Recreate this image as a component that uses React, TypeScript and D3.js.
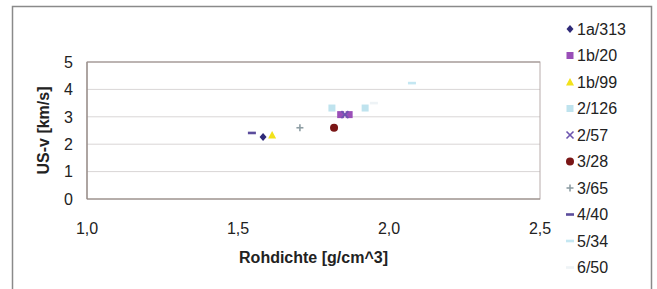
import React from "react";
import * as d3 from "d3";

const W = 657;
const H = 289;

const seriesNames = ["1a/313", "1b/20", "1b/99", "2/126", "2/57", "3/28", "3/65", "4/40", "5/34", "6/50"];
const seriesColors = ["#2f2a78", "#9a4fb8", "#f2e21a", "#bfe3ee", "#6d55b0", "#7a1616", "#8e9ea4", "#5b4c9c", "#c4e7f2", "#eef3f6"];
const seriesShapes = ["diamond", "square", "triangle", "square", "x", "circle", "plus", "dash", "dash", "dash"];

// x = Rohdichte [g/cm^3], y = US-v [km/s]
const xs1a313 = [1.583];
const ys1a313 = [2.26];
const xs1b20 = [1.84, 1.868];
const ys1b20 = [3.08, 3.08];
const xs1b99 = [1.613];
const ys1b99 = [2.34];
const xs2126 = [1.811, 1.921];
const ys2126 = [3.32, 3.32];
const xs257 = [1.854];
const ys257 = [3.08];
const xs328 = [1.818];
const ys328 = [2.6];
const xs365 = [1.705];
const ys365 = [2.6];
const xs440 = [1.546];
const ys440 = [2.41];
const xs534 = [2.076];
const ys534 = [4.23];
const xs650 = [1.95];
const ys650 = [3.5];

const seriesX = [xs1a313, xs1b20, xs1b99, xs2126, xs257, xs328, xs365, xs440, xs534, xs650];
const seriesY = [ys1a313, ys1b20, ys1b99, ys2126, ys257, ys328, ys365, ys440, ys534, ys650];

const xTicks = [1.0, 1.5, 2.0, 2.5];
const yTicks = [0, 1, 2, 3, 4, 5];

const FONT = "'Liberation Sans', Arial, sans-serif";

function Marker({ shape, color, cx, cy }: { shape: string; color: string; cx: number; cy: number }) {
  const s = 3.5;
  if (shape === "diamond") {
    return <path d={`M${cx},${cy - s - 0.5}L${cx + s},${cy}L${cx},${cy + s + 0.5}L${cx - s},${cy}Z`} fill={color} />;
  }
  if (shape === "square") {
    return <rect x={cx - s} y={cy - s} width={2 * s} height={2 * s} fill={color} />;
  }
  if (shape === "triangle") {
    return <path d={`M${cx},${cy - s - 0.5}L${cx + s + 0.5},${cy + s}L${cx - s - 0.5},${cy + s}Z`} fill={color} />;
  }
  if (shape === "circle") {
    return <circle cx={cx} cy={cy} r={s + 0.5} fill={color} />;
  }
  if (shape === "x") {
    return (
      <g stroke={color} strokeWidth={1.6}>
        <line x1={cx - s} y1={cy - s} x2={cx + s} y2={cy + s} />
        <line x1={cx - s} y1={cy + s} x2={cx + s} y2={cy - s} />
      </g>
    );
  }
  if (shape === "plus") {
    return (
      <g stroke={color} strokeWidth={1.6}>
        <line x1={cx - s} y1={cy} x2={cx + s} y2={cy} />
        <line x1={cx} y1={cy - s} x2={cx} y2={cy + s} />
      </g>
    );
  }
  // dash
  return <rect x={cx - s - 0.5} y={cy - 1.3} width={2 * s + 1} height={2.6} fill={color} />;
}

export default function App() {
  const left = 87;
  const right = 540;
  const top = 62;
  const bottom = 199;

  const x = d3.scaleLinear().domain([1.0, 2.5]).range([left, right]);
  const y = d3.scaleLinear().domain([0, 5]).range([bottom, top]);
  const fmt = (v: number) => d3.format(".1f")(v).replace(".", ",");

  const legendX = 570;
  const legendY0 = 29;
  const legendDy = 26.5;

  return (
    <svg
      width={W}
      height={H}
      style={{ position: "absolute", left: 0, top: 0, background: "#fff" }}
      fontFamily={FONT}
    >
      <rect x={0} y={0} width={W} height={H} fill="#ffffff" />
      {/* outer frame */}
      <path d={`M12.5,${H}V6.5H651.5V${H}`} fill="none" stroke="#8a8a8a" strokeWidth={1.5} />

      {/* gridlines */}
      {yTicks.filter((t) => t > 0 && t < 5).map((t) => (
        <line key={t} x1={left} x2={right} y1={y(t)} y2={y(t)} stroke="#d9d6d6" strokeWidth={1} />
      ))}
      {/* plot border */}
      <rect x={left} y={top} width={right - left} height={bottom - top} fill="none" stroke="#b8acab" strokeWidth={1} />
      <line x1={left} x2={right} y1={bottom} y2={bottom} stroke="#8f8580" strokeWidth={1.2} />
      <line x1={left} x2={left} y1={top} y2={bottom} stroke="#8f8580" strokeWidth={1.2} />
      <line x1={left} x2={right} y1={top} y2={top} stroke="#9d9490" strokeWidth={1.2} />

      {/* y tick labels */}
      {yTicks.map((t) => (
        <text key={t} x={73} y={y(t)} dy="0.36em" textAnchor="end" fontSize={16} fill="#222">
          {t}
        </text>
      ))}
      {/* x tick labels */}
      {xTicks.map((t) => (
        <text key={t} x={x(t)} y={228} dy="0.36em" textAnchor="middle" fontSize={16} fill="#222">
          {fmt(t)}
        </text>
      ))}

      {/* axis titles */}
      <text x={(left + right) / 2} y={257} dy="0.36em" textAnchor="middle" fontSize={16} fontWeight="bold" fill="#222">
        Rohdichte [g/cm^3]
      </text>
      <text
        transform={`translate(43,${(top + bottom) / 2}) rotate(-90)`}
        dy="0.36em"
        textAnchor="middle"
        fontSize={16}
        fontWeight="bold"
        fill="#222"
      >
        US-v [km/s]
      </text>

      {/* points */}
      {seriesNames.map((name, i) =>
        seriesX[i].map((xv, j) => (
          <Marker key={`${name}-${j}`} shape={seriesShapes[i]} color={seriesColors[i]} cx={x(xv)} cy={y(seriesY[i][j])} />
        ))
      )}

      {/* legend */}
      {seriesNames.map((name, i) => (
        <g key={name}>
          <Marker shape={seriesShapes[i]} color={seriesColors[i]} cx={legendX} cy={legendY0 + i * legendDy} />
          <text x={legendX + 7} y={legendY0 + i * legendDy} dy="0.36em" fontSize={16} fill="#222">
            {name}
          </text>
        </g>
      ))}
    </svg>
  );
}
